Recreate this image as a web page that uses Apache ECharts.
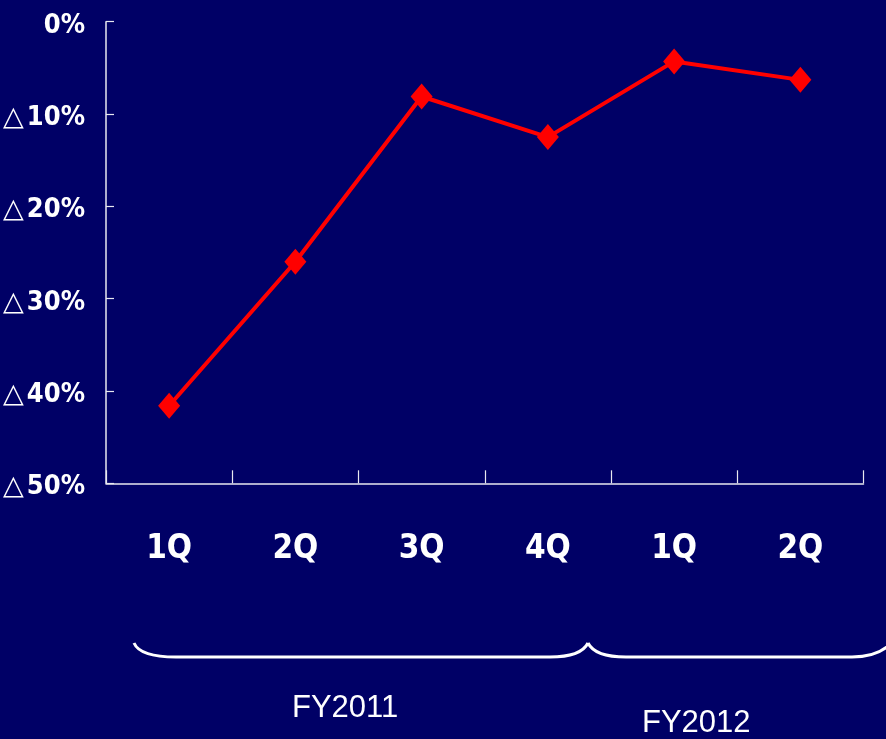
<!DOCTYPE html>
<html style="height: 100%;">
  <head>
    <meta charset="utf-8" />
    <script src="https://cdn.jsdelivr.net/npm/echarts/dist/echarts.min.js"></script>
  </head>
  <body style="height: 100%; margin: 0; background: #000066;">
    <div id="container" style="width: 886px; height: 739px;"></div>
    <script type="text/javascript">
      // quarters and change vs previous year (%)
      var quarters = ["1Q", "2Q", "3Q", "4Q", "1Q", "2Q"];
      var changes = [-41.6, -26.0, -8.1, -12.5, -4.3, -6.3];
      var yTicks = [0, -10, -20, -30, -40, -50];
      var fiscalYears = ["FY2011", "FY2012"];

      var labelFont = "'DejaVu Sans Condensed', sans-serif";
      var braceStyle = { stroke: "#ffffff", lineWidth: 3, fill: null };

      function curve(x1, y1, cx, cy, x2, y2) {
        return {
          type: "bezierCurve",
          shape: { x1: x1, y1: y1, cpx1: cx, cpy1: cy, x2: x2, y2: y2 },
          style: braceStyle,
        };
      }
      function seg(x1, y1, x2, y2) {
        return {
          type: "line",
          shape: { x1: x1, y1: y1, x2: x2, y2: y2 },
          style: braceStyle,
        };
      }

      var myChart = echarts.init(document.getElementById("container"));
      var option = {
        backgroundColor: "#000066",
        animation: false,
        grid: {
          left: 106,
          top: 21.7,
          right: 22.5,
          bottom: 255.7,
          containLabel: false,
          outerBoundsMode: "none",
        },
        xAxis: {
          type: "category",
          data: quarters,
          boundaryGap: true,
          axisLine: { onZero: false, lineStyle: { color: "#e8e8f0", width: 1.5 } },
          axisTick: {
            show: true,
            inside: true,
            alignWithLabel: false,
            interval: 0,
            length: 13,
            lineStyle: { color: "#e8e8f0", width: 1.2 },
          },
          axisLabel: {
            color: "#ffffff",
            fontSize: 33,
            fontWeight: "bold",
            fontFamily: labelFont,
            margin: 50,
          },
        },
        yAxis: {
          type: "value",
          min: yTicks[yTicks.length - 1],
          max: yTicks[0],
          interval: 10,
          splitLine: { show: false },
          axisLine: { show: true, lineStyle: { color: "#e8e8f0", width: 1.5 } },
          axisTick: { show: true, inside: true, length: 8, lineStyle: { color: "#e8e8f0", width: 1.2 } },
          axisLabel: {
            color: "#ffffff",
            fontSize: 27,
            fontWeight: "bold",
            fontFamily: labelFont,
            margin: 21,
            padding: [8, 0, 0, 0],
            formatter: function (v) {
              if (v === 0) return "0%";
              return "{tri|△}" + Math.abs(v) + "%";
            },
            rich: {
              tri: {
                fontFamily: "'DejaVu Sans', sans-serif",
                fontSize: 27,
                fontWeight: "bold",
                color: "#ffffff",
                padding: [0, 3, 0, 0],
              },
            },
          },
        },
        graphic: [
          curve(134, 643, 140, 657, 176, 657),
          seg(176, 657, 550, 657),
          curve(550, 657, 581, 657, 588, 643),
          curve(588, 643, 595, 657, 626, 657),
          seg(626, 657, 852, 657),
          curve(852, 657, 880, 657, 893, 641),
          {
            type: "text",
            left: 292,
            top: 693,
            style: {
              text: fiscalYears[0],
              fill: "#ffffff",
              font: "31px 'Liberation Sans', sans-serif",
            },
          },
          {
            type: "text",
            left: 642,
            top: 708,
            style: {
              text: fiscalYears[1],
              fill: "#ffffff",
              font: "31px 'Liberation Sans', sans-serif",
            },
          },
        ],
        series: [
          {
            type: "line",
            data: changes,
            symbol: "diamond",
            symbolSize: [22, 26],
            itemStyle: { color: "#ff0000" },
            lineStyle: { color: "#ff0000", width: 4 },
          },
        ],
      };
      myChart.setOption(option);
    </script>
  </body>
</html>
